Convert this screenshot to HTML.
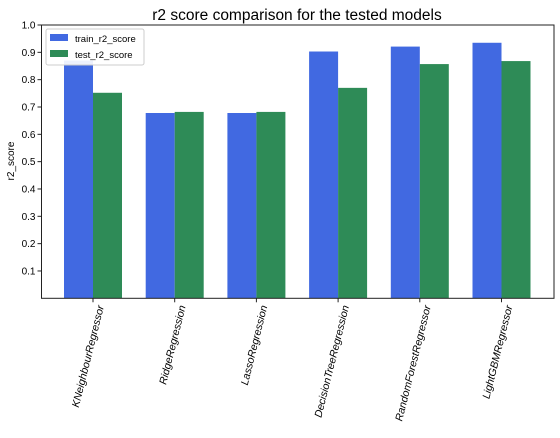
<!DOCTYPE html>
<html><head><meta charset="utf-8"><style>
body{margin:0;background:#fff;font-family:"Liberation Sans",sans-serif}
</style></head><body>
<svg id="c" width="560" height="433" xmlns="http://www.w3.org/2000/svg" font-family="Liberation Sans, sans-serif">
<text x="297" y="20" font-size="15.5" text-anchor="middle">r2 score comparison for the tested models</text>
<text transform="translate(14,161) rotate(-90)" font-size="10" text-anchor="middle">r2_score</text>
<g id="bars"></g><g id="yt"></g><g id="xt"></g>
<rect x="41.5" y="25" width="512.5" height="273.3" fill="none" stroke="#222" stroke-width="1"/>
<g>
<rect x="46" y="29" width="98" height="36" fill="#fff" stroke="#ccc" rx="2" fill-opacity="0.9"/>
<rect x="50" y="34" width="18" height="7" fill="#4169e1"/>
<text x="75" y="42" font-size="9.5">train_r2_score</text>
<rect x="50" y="50" width="18" height="7" fill="#2e8b57"/>
<text x="75" y="58" font-size="9.5">test_r2_score</text>
</g>
</svg>
<script>
const categories=["KNeighbourRegressor","RidgeRegression","LassoRegression","DecisionTreeRegression","RandomForestRegressor","LightGBMRegressor"];
const trainValues=[0.87,0.678,0.678,0.903,0.921,0.935];
const testValues=[0.752,0.682,0.682,0.77,0.857,0.868];
const yTicks=[0.1,0.2,0.3,0.4,0.5,0.6,0.7,0.8,0.9,1.0];
const NS="http://www.w3.org/2000/svg";
const L=41.5,R=554,T=25,B=298.3;
const y=v=>B-(v-0)/(1.0)*(B-T);
const x=i=>93+i*81.7;
const bw=29;
function mk(t,a,p){const e=document.createElementNS(NS,t);for(const k in a)e.setAttribute(k,a[k]);p.appendChild(e);return e;}
const bars=document.getElementById('bars'),yt=document.getElementById('yt'),xt=document.getElementById('xt');
categories.forEach((c,i)=>{
 const b1=mk('rect',{x:x(i)-bw,y:y(trainValues[i]),width:bw,height:B-y(trainValues[i]),fill:'#4169e1'},bars);
 
 
 const b2=mk('rect',{x:x(i),y:y(testValues[i]),width:bw,height:B-y(testValues[i]),fill:'#2e8b57'},bars);
 
 
 mk('line',{x1:x(i),x2:x(i),y1:B,y2:B+4,stroke:'#222'},xt);
 const t=mk('text',{transform:`translate(${x(i)+11},${B+8}) rotate(-76)`,'font-size':'10.6','text-anchor':'end','font-style':'italic'},xt);
 t.textContent=c;
 
 
});
yTicks.forEach(v=>{
 mk('line',{x1:L-4,x2:L,y1:y(v),y2:y(v),stroke:'#222'},yt);
 const t=mk('text',{x:L-6,y:y(v)+3.5,'font-size':'10','text-anchor':'end'},yt);
 t.textContent=v.toFixed(1);
 
 
});
</script>
</body></html>
